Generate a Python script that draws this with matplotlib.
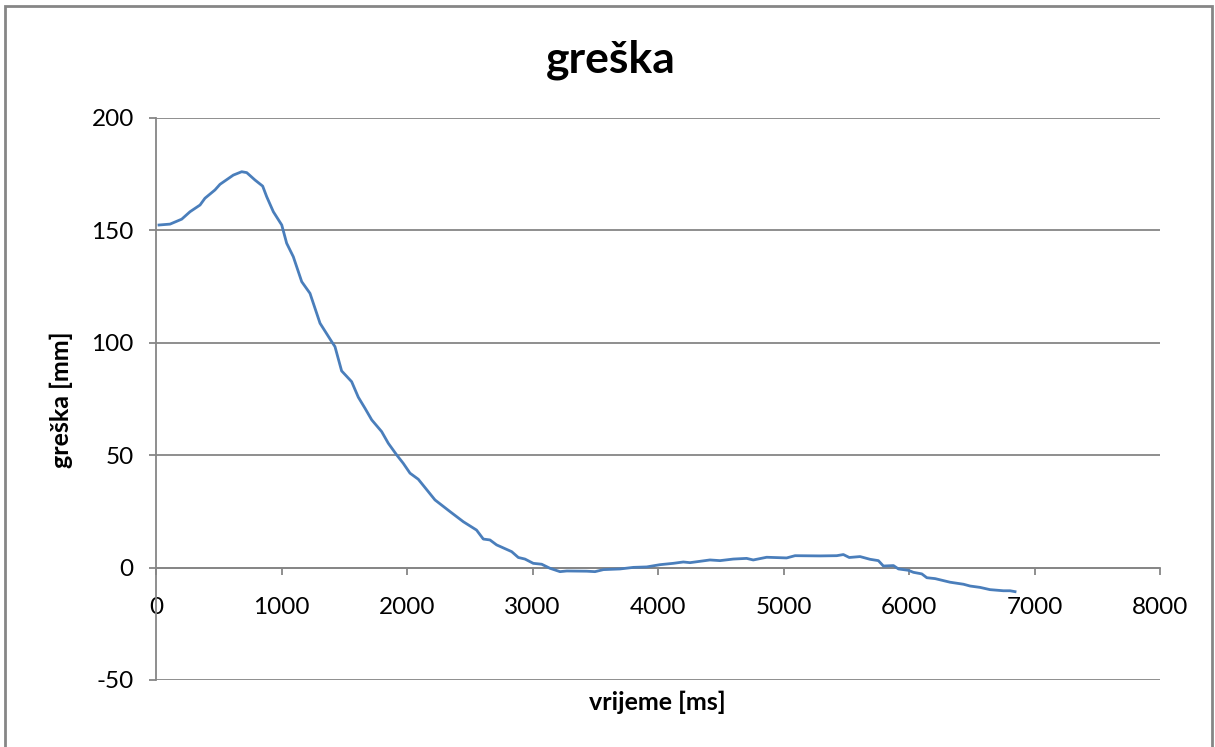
import matplotlib
matplotlib.use("Agg")
import matplotlib.pyplot as plt
from matplotlib.patches import Rectangle

plt.rcParams["font.family"] = ["Lato", "DejaVu Sans"]
plt.rcParams["axes.unicode_minus"] = False

# ── data (time in ms, error in mm) ────────────────────────────────────
vrijeme = [
    24, 112, 205, 271, 351, 390, 470, 510, 616, 683, 723, 789, 850, 882,
    935, 1002, 1041, 1094, 1161, 1227, 1307, 1400, 1426, 1479, 1559, 1612,
    1665, 1719, 1798, 1851, 1918, 1970, 2024, 2090, 2223, 2343, 2449, 2554,
    2608, 2661, 2714, 2834, 2887, 2940, 3006, 3073, 3139, 3219, 3273, 3432,
    3498, 3565, 3697, 3804, 3910, 4016, 4122, 4202, 4255, 4414, 4494, 4600,
    4706, 4759, 4866, 5025, 5092, 5291, 5424, 5477, 5524, 5610, 5689, 5756,
    5796, 5876, 5916, 5995, 6035, 6102, 6142, 6208, 6327, 6434, 6487, 6566,
    6645, 6752, 6805, 6845,
]
greska = [
    152.4, 152.8, 155.0, 158.3, 161.3, 164.3, 168.0, 170.5, 174.6, 176.1,
    175.7, 172.4, 169.7, 165.0, 158.3, 152.4, 144.3, 138.3, 127.2, 122.0,
    108.7, 100.5, 98.3, 87.5, 82.7, 75.8, 70.9, 65.7, 60.5, 55.3, 50.1,
    46.4, 42.0, 39.3, 30.1, 24.9, 20.4, 16.7, 12.7, 12.3, 10.1, 7.1, 4.5,
    3.8, 1.9, 1.5, -0.3, -1.8, -1.5, -1.6, -1.8, -0.9, -0.6, 0.1, 0.3, 1.3,
    1.9, 2.5, 2.2, 3.4, 3.1, 3.8, 4.1, 3.4, 4.6, 4.3, 5.3, 5.2, 5.3, 5.8,
    4.5, 4.9, 3.7, 3.1, 0.7, 0.9, -0.6, -1.2, -2.1, -2.8, -4.5, -4.9, -6.5,
    -7.4, -8.2, -8.8, -9.8, -10.3, -10.3, -10.7,
]
x_ticks = [0, 1000, 2000, 3000, 4000, 5000, 6000, 7000, 8000]
y_ticks = [-50, 0, 50, 100, 150, 200]

C_LINE = "#4a7ebb"
C_AXIS = "#868686"

W, H = 1215, 747
fig = plt.figure(figsize=(W / 100, H / 100), dpi=100)
ax = fig.add_axes([156 / W, 1 - 680 / H, (1160 - 156) / W, (680 - 118) / H])

ax.plot(vrijeme, greska, color=C_LINE, linewidth=2.0, solid_joinstyle="round", zorder=3)

ax.set_xlim(0, 8000)
ax.set_ylim(-50, 200)
ax.set_xticks(x_ticks)
ax.set_yticks(y_ticks)

# Excel-style axes: x axis crosses at y=0
ax.spines["bottom"].set_position(("data", 0))
ax.spines["top"].set_visible(False)
ax.spines["right"].set_visible(False)
for s in ("bottom", "left"):
    ax.spines[s].set_color(C_AXIS)
    ax.spines[s].set_linewidth(1.3)

ax.grid(axis="y", color=C_AXIS, linewidth=1.3, zorder=0)
ax.set_axisbelow(True)
ax.tick_params(axis="x", direction="out", length=5, width=1.3, color=C_AXIS,
               labelsize=17.5, pad=16)
ax.tick_params(axis="y", direction="out", length=5, width=1.3, color=C_AXIS,
               labelsize=17.5, pad=11)

fig.text(611 / W, 1 - 60 / H, "greška", ha="center", va="center",
         fontsize=32, fontweight="bold")
fig.text(657 / W, 1 - 702 / H, "vrijeme [ms]", ha="center", va="center",
         fontsize=18, fontweight="bold")
fig.text(61 / W, 1 - 400 / H, "greška [mm]", ha="center", va="center",
         rotation=90, fontsize=18, fontweight="bold")

# chart area border
fig.patches.append(Rectangle((5 / W, -0.05), (1212 - 5) / W, 1.05 - 6 / H,
                             transform=fig.transFigure, fill=False,
                             edgecolor=C_AXIS, linewidth=2))

fig.savefig("out.png", dpi=100)
